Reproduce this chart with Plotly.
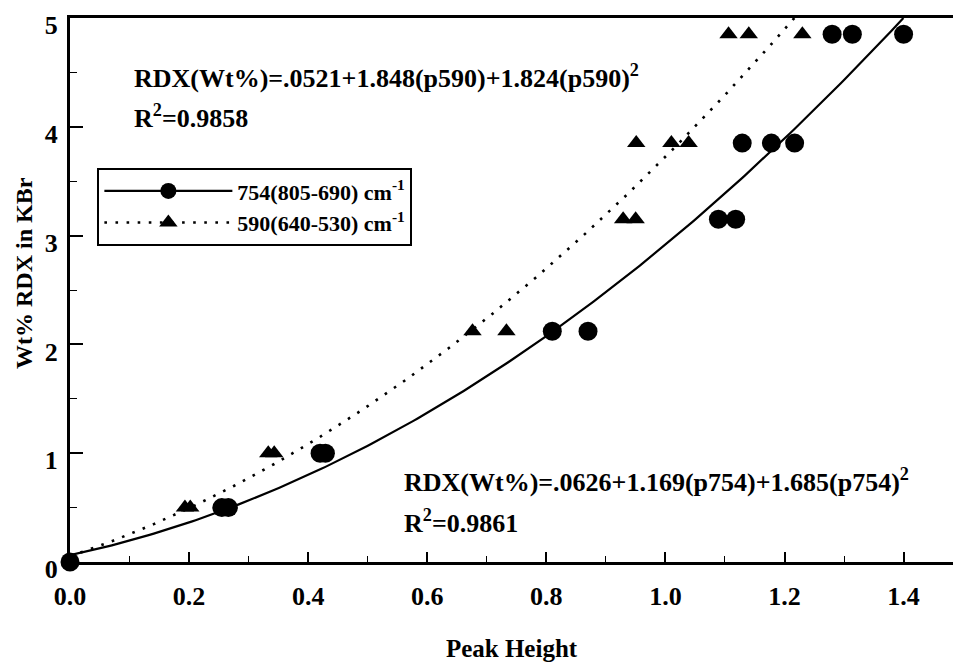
import numpy as np
import plotly.graph_objects as go

# Measured peak heights and RDX concentration (Wt%) in KBr pellets
x_754 = [0.0, 0.255, 0.266, 0.42, 0.429, 0.81, 0.87, 1.089, 1.118,
         1.129, 1.178, 1.217, 1.28, 1.314, 1.40]
y_754 = [0.0, 0.5, 0.5, 1.0, 1.0, 2.12, 2.12, 3.15, 3.15,
         3.85, 3.85, 3.85, 4.85, 4.85, 4.85]

x_590 = [0.193, 0.202, 0.333, 0.343, 0.676, 0.733, 0.929, 0.95,
         0.951, 1.01, 1.039, 1.106, 1.14, 1.23]
y_590 = [0.5, 0.5, 1.0, 1.0, 2.12, 2.12, 3.15, 3.15,
         3.85, 3.85, 3.85, 4.85, 4.85, 4.85]

# Quadratic calibration fits: c0 + c1*p + c2*p^2
fit_754 = [0.0626, 1.169, 1.685]
fit_590 = [0.0521, 1.848, 1.824]

legend_754 = "754(805-690) cm<sup>-1</sup>"
legend_590 = "590(640-530) cm<sup>-1</sup>"
eq_754 = ["RDX(Wt%)=.0626+1.169(p754)+1.685(p754)<sup>2</sup>", "R<sup>2</sup>=0.9861"]
eq_590 = ["RDX(Wt%)=.0521+1.848(p590)+1.824(p590)<sup>2</sup>", "R<sup>2</sup>=0.9858"]

Y_MAX = 5.0
FONT = "Liberation Serif"
BOLD = dict(family=FONT, color="black", weight="bold")


def fit_curve(c):
    # evaluate the fit from p=0 up to where it reaches the top of the axis
    p_end = (-c[1] + np.sqrt(c[1] ** 2 - 4 * c[2] * (c[0] - Y_MAX))) / (2 * c[2])
    p = np.linspace(0, p_end, 200)
    return p, c[0] + c[1] * p + c[2] * p ** 2


solid = dict(color="black", width=2.2)
dotted = dict(color="black", width=2.6, dash="2.6px,8.5px")
circle = dict(symbol="circle", size=19, color="black")
triangle = dict(symbol="triangle-up", size=16, color="black")

fig = go.Figure()

p, w = fit_curve(fit_754)
fig.add_trace(go.Scatter(x=p, y=w, mode="lines", showlegend=False, line=solid))
p, w = fit_curve(fit_590)
fig.add_trace(go.Scatter(x=p, y=w, mode="lines", showlegend=False, line=dotted))

fig.add_trace(go.Scatter(x=x_754, y=y_754, mode="markers", showlegend=False,
                         cliponaxis=False, marker=circle))
fig.add_trace(go.Scatter(x=x_590, y=y_590, mode="markers", showlegend=False,
                         cliponaxis=False, marker=triangle))

# legend entries (line + symbol) for the two bands
fig.add_trace(go.Scatter(x=[None], y=[None], mode="lines+markers", name=legend_754,
                         line=solid, marker=circle))
fig.add_trace(go.Scatter(x=[None], y=[None], mode="lines+markers", name=legend_590,
                         line=dotted, marker=triangle))

# fit equations, one line per annotation
for text, yv in zip(eq_590, [4.465, 4.095]):
    fig.add_annotation(x=0.104, y=yv, xref="x", yref="y", text=text, showarrow=False,
                       xanchor="left", yanchor="middle", align="left",
                       font=dict(BOLD, size=26))
for text, yv in zip(eq_754, [0.752, 0.37]):
    fig.add_annotation(x=0.557, y=yv, xref="x", yref="y", text=text, showarrow=False,
                       xanchor="left", yanchor="middle", align="left",
                       font=dict(BOLD, size=26))

# y-axis title, placed in pixel terms relative to the plot area
plot_w, plot_h = 953 - 70, 663 - 18 - 101
fig.add_annotation(x=(24 - 70) / plot_w, y=(663 - 101 - 273) / plot_h,
                   xref="paper", yref="paper", text="Wt% RDX in KBr",
                   showarrow=False, textangle=-90, xanchor="center", yanchor="middle",
                   font=dict(BOLD, size=24))

fig.update_layout(
    width=953, height=663,
    margin=dict(l=70, r=0, t=18, b=101),
    paper_bgcolor="white", plot_bgcolor="white",
    font=BOLD,
    legend=dict(x=0.031, y=0.724, xanchor="left", yanchor="top",
                bordercolor="black", borderwidth=2, bgcolor="white",
                font=dict(BOLD, size=22), itemwidth=128),
    xaxis=dict(range=[0, 1.483], dtick=0.2, tick0=0, tickformat=".1f",
               ticks="inside", ticklen=10, tickwidth=1.5, tickcolor="black",
               minor=dict(dtick=0.1, ticks="inside", ticklen=6, tickwidth=1.2, tickcolor="black"),
               showline=True, linecolor="black", linewidth=3, mirror=True,
               showgrid=False, zeroline=False, ticklabelstandoff=9,
               tickfont=dict(BOLD, size=26),
               title=dict(text="Peak Height", standoff=30, font=dict(BOLD, size=25))),
    yaxis=dict(range=[0, Y_MAX], dtick=1, tick0=0,
               ticks="inside", ticklen=13, tickwidth=1.5, tickcolor="black",
               minor=dict(dtick=0.5, ticks="inside", ticklen=7, tickwidth=1.2, tickcolor="black"),
               showline=True, linecolor="black", linewidth=3,
               showgrid=False, zeroline=False, ticklabelstandoff=4, ticklabelshift=7,
               ticklabeloverflow="allow", tickfont=dict(BOLD, size=26)),
)

fig.write_html("out.html")
